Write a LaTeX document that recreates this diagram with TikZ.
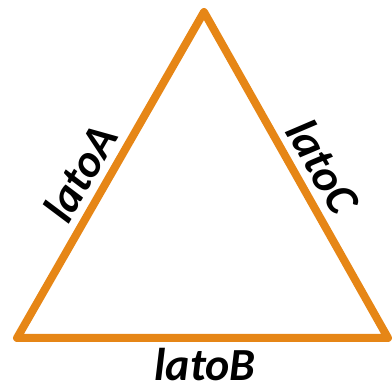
\documentclass[tikz,border=0pt]{standalone}
\usepackage{fontspec}
\setmainfont{Carlito}
\definecolor{triorange}{RGB}{230,134,22}
\tikzset{
  side/.style={draw=triorange, line width=8pt, line join=round, line cap=round},
  sidelabel/.style={font=\fontsize{46}{46}\selectfont\bfseries\itshape, inner sep=0pt, text=black}
}
\begin{document}
\begin{tikzpicture}[x=1pt,y=-1pt]
\useasboundingbox (0,0) rectangle (392,385);
\coordinate (A) at (204,12);
\coordinate (L) at (17,338);
\coordinate (R) at (388,338);
\draw[side] (A) -- (L) -- (R) -- cycle;
\node[sidelabel, rotate=60] (la) at (80,173) {latoA};
\node[sidelabel, rotate=-60] (lc) at (323,166) {latoC};
\node[sidelabel] (lb) at (205,365) {latoB};
\end{tikzpicture}
\end{document}
